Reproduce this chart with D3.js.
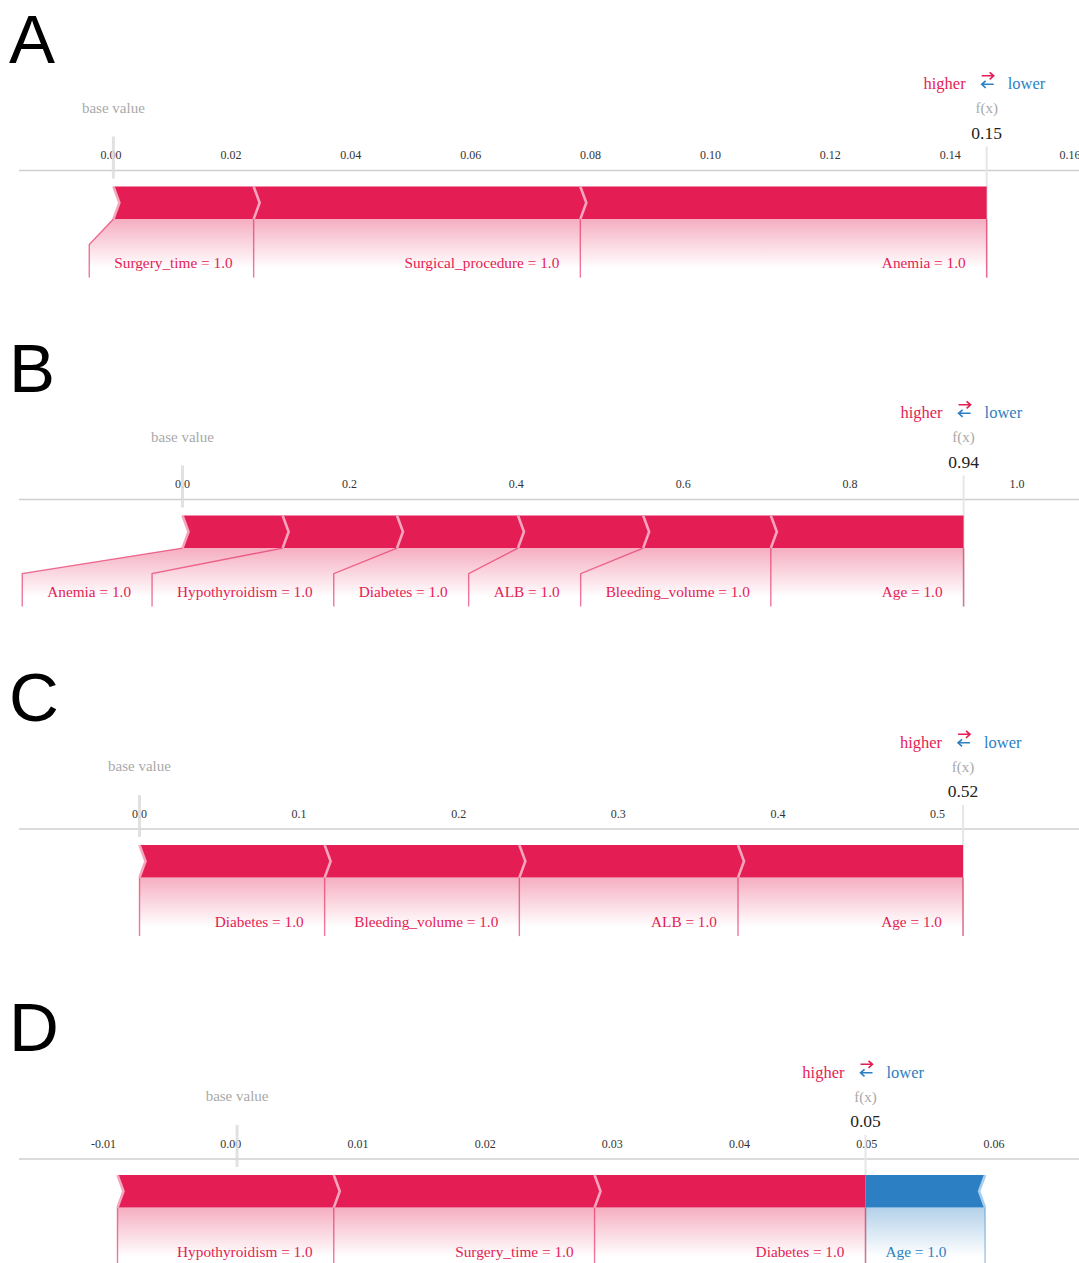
<!DOCTYPE html>
<html>
<head>
<meta charset="utf-8">
<script src="https://cdn.jsdelivr.net/npm/d3@7"></script>
<style>
  body { margin: 0; background: #fff; }
  svg text { font-family: "Liberation Serif", "Times New Roman", serif; }
</style>
</head>
<body>
<div id="chart"></div>
<script>
// ---- data ----
var namesA = ["Surgery_time", "Surgical_procedure", "Anemia"];
var valuesA = ["1.0", "1.0", "1.0"];
var shapA = [0.0234, 0.0545, 0.0678];
var baseA = 0.0004;
var ticksA = [0, 0.02, 0.04, 0.06, 0.08, 0.10, 0.12, 0.14, 0.16];
var tickLabelsA = ["0.00", "0.02", "0.04", "0.06", "0.08", "0.10", "0.12", "0.14", "0.16"];

var namesB = ["Anemia", "Hypothyroidism", "Diabetes", "ALB", "Bleeding_volume", "Age"];
var valuesB = ["1.0", "1.0", "1.0", "1.0", "1.0", "1.0"];
var shapB = [0.120, 0.137, 0.145, 0.150, 0.153, 0.231];
var baseB = 0.0;
var ticksB = [0, 0.2, 0.4, 0.6, 0.8, 1.0];
var tickLabelsB = ["0.0", "0.2", "0.4", "0.6", "0.8", "1.0"];

var namesC = ["Diabetes", "Bleeding_volume", "ALB", "Age"];
var valuesC = ["1.0", "1.0", "1.0", "1.0"];
var shapC = [0.116, 0.122, 0.137, 0.141];
var baseC = 0.0;
var ticksC = [0, 0.1, 0.2, 0.3, 0.4, 0.5];
var tickLabelsC = ["0.0", "0.1", "0.2", "0.3", "0.4", "0.5"];

var namesD = ["Hypothyroidism", "Surgery_time", "Diabetes", "Age"];
var valuesD = ["1.0", "1.0", "1.0", "1.0"];
var shapD = [0.0170, 0.0205, 0.0213, -0.0094];
var baseD = 0.0005;
var ticksD = [-0.01, 0, 0.01, 0.02, 0.03, 0.04, 0.05, 0.06];
var tickLabelsD = ["-0.01", "0.00", "0.01", "0.02", "0.03", "0.04", "0.05", "0.06"];

var letters = ["A", "B", "C", "D"];

// ---- layout ----
var width = 1079, height = 1263;
var red = "#e41d55", blue = "#2c7fc2";
var redEdge = "#f5a6bd", blueEdge = "#a8cdee";

var panels = [
  {names: namesA, values: valuesA, shap: shapA, base: baseA, ticks: ticksA, tickLabels: tickLabelsA, axisY: 170.5, range: [111, 1070]},
  {names: namesB, values: valuesB, shap: shapB, base: baseB, ticks: ticksB, tickLabels: tickLabelsB, axisY: 499.5, range: [182.5, 1017]},
  {names: namesC, values: valuesC, shap: shapC, base: baseC, ticks: ticksC, tickLabels: tickLabelsC, axisY: 829, range: [139.5, 937.5]},
  {names: namesD, values: valuesD, shap: shapD, base: baseD, ticks: ticksD, tickLabels: tickLabelsD, axisY: 1159, range: [103.5, 994]}
];

var svg = d3.select("#chart").append("svg")
    .attr("width", width)
    .attr("height", height);

var defs = svg.append("defs");
function makeGrad(id, color) {
  var g = defs.append("linearGradient").attr("id", id)
      .attr("x1", 0).attr("y1", 0).attr("x2", 0).attr("y2", 1);
  g.append("stop").attr("offset", "0%").attr("stop-color", color).attr("stop-opacity", 0.36);
  g.append("stop").attr("offset", "84%").attr("stop-color", color).attr("stop-opacity", 0);
}
makeGrad("gradRed", red);
makeGrad("gradBlue", blue);

var tip = 6;          // chevron depth
var pad = 46;         // label box width beyond text
var labelSize = 15.3;

panels.forEach(function (p, pi) {
  var x = d3.scaleLinear()
      .domain([p.ticks[0], p.ticks[p.ticks.length - 1]])
      .range(p.range);

  var g = svg.append("g");
  var ay = p.axisY;
  var top = ay + 16, bot = ay + 48.6, mid = (top + bot) / 2;
  var corner = bot + 25.5, lineBottom = bot + 58.5, labelY = bot + 49;

  var fx = p.base + d3.sum(p.shap);
  var sumPos = d3.sum(p.shap.filter(function (v) { return v > 0; }));

  // segments
  var pos = [], neg = [];
  var cur = fx - sumPos;
  p.shap.forEach(function (v, i) {
    if (v > 0) {
      pos.push({i: i, x0: x(cur), x1: x(cur + v)});
      cur += v;
    }
  });
  cur = fx;
  p.shap.forEach(function (v, i) {
    if (v < 0) {
      neg.push({i: i, x0: x(cur), x1: x(cur - v)});
      cur -= v;
    }
  });

  // panel letter
  g.append("text")
      .attr("x", 9)
      .attr("y", ay - 108)
      .style("font-family", "'Liberation Sans', Arial, sans-serif")
      .style("font-size", "69px")
      .attr("fill", "#000")
      .text(letters[pi]);

  // axis line + tick labels
  g.append("line")
      .attr("x1", 19).attr("x2", width)
      .attr("y1", ay).attr("y2", ay)
      .attr("stroke", "#cfcfcf").attr("stroke-width", 1.6);

  g.selectAll(".tick")
      .data(p.ticks)
      .enter().append("text")
      .attr("class", "tick")
      .attr("x", function (d) { return x(d); })
      .attr("y", ay - 11.5)
      .attr("text-anchor", "middle")
      .style("font-size", "12px")
      .attr("fill", "#333")
      .text(function (d, i) { return p.tickLabels[i]; });

  // base value and f(x) guide lines
  g.append("line")
      .attr("x1", x(p.base)).attr("x2", x(p.base))
      .attr("y1", ay - 34).attr("y2", ay + 8)
      .attr("stroke", "#dcdcdc").attr("stroke-opacity", 0.85).attr("stroke-width", 3);
  g.append("line")
      .attr("x1", x(fx)).attr("x2", x(fx))
      .attr("y1", ay - 24).attr("y2", ay + 107)
      .attr("stroke", "#e6e6e6").attr("stroke-width", 2);

  g.append("text")
      .attr("x", x(p.base)).attr("y", ay - 58)
      .attr("text-anchor", "middle")
      .style("font-size", "15px")
      .attr("fill", "#a9a9a9")
      .text("base value");

  g.append("text")
      .attr("x", x(fx)).attr("y", ay - 57.5)
      .attr("text-anchor", "middle")
      .style("font-size", "15px")
      .attr("fill", "#a9a9a9")
      .text("f(x)");

  g.append("text")
      .attr("x", x(fx)).attr("y", ay - 31.7)
      .attr("text-anchor", "middle")
      .style("font-size", "17.5px")
      .attr("fill", "#222")
      .text(fx.toFixed(2));

  // higher <-> lower legend
  g.append("text")
      .attr("x", x(fx) - 21).attr("y", ay - 81.4)
      .attr("text-anchor", "end")
      .style("font-size", "16.5px")
      .attr("fill", red)
      .text("higher");
  g.append("text")
      .attr("x", x(fx) + 21).attr("y", ay - 81.4)
      .attr("text-anchor", "start")
      .style("font-size", "16.5px")
      .attr("fill", blue)
      .text("lower");
  var cx = x(fx) + 1, ya = ay - 94.7, yb = ay - 86.2;
  g.append("path")
      .attr("d", "M" + (cx - 6) + "," + ya + "H" + (cx + 6) + "M" + (cx + 2) + "," + (ya - 3.5) + "L" + (cx + 6) + "," + ya + "L" + (cx + 2) + "," + (ya + 3.5))
      .attr("fill", "none").attr("stroke", red).attr("stroke-width", 1.6);
  g.append("path")
      .attr("d", "M" + (cx + 6) + "," + yb + "H" + (cx - 6) + "M" + (cx - 2) + "," + (yb - 3.5) + "L" + (cx - 6) + "," + yb + "L" + (cx - 2) + "," + (yb + 3.5))
      .attr("fill", "none").attr("stroke", blue).attr("stroke-width", 1.6);

  // labels: measure text first
  var labelG = g.append("g");
  function makeLabel(seg, color) {
    var t = labelG.append("text")
        .attr("y", labelY)
        .style("font-size", labelSize + "px")
        .attr("fill", color)
        .text(p.names[seg.i] + " = " + p.values[seg.i]);
    seg.text = t;
    seg.w = t.node().getComputedTextLength() + pad;
  }
  pos.forEach(function (s) { makeLabel(s, red); });
  neg.forEach(function (s) { makeLabel(s, blue); });

  // positive boxes pushed to the left
  for (var k = pos.length - 1; k >= 0; k--) {
    var s = pos[k];
    s.right = (k === pos.length - 1) ? s.x1 : pos[k + 1].left;
    s.left = Math.min(s.x0, s.right - s.w);
  }
  // negative boxes pushed to the right
  for (var j = 0; j < neg.length; j++) {
    var n = neg[j];
    n.left = (j === 0) ? n.x0 : neg[j - 1].right;
    n.right = Math.max(n.x1, n.left + n.w);
  }

  function boxPoly(s) {
    return [[s.x0, bot], [s.x1, bot], [s.right, corner], [s.right, lineBottom],
            [s.left, lineBottom], [s.left, corner]];
  }
  var polyG = g.insert("g", function () { return labelG.node(); });
  pos.forEach(function (s) {
    polyG.append("path")
        .attr("d", "M" + boxPoly(s).join("L") + "Z")
        .attr("fill", "url(#gradRed)");
  });
  neg.forEach(function (s) {
    polyG.append("path")
        .attr("d", "M" + boxPoly(s).join("L") + "Z")
        .attr("fill", "url(#gradBlue)");
  });

  pos.forEach(function (s, k) {
    polyG.append("path")
        .attr("d", "M" + s.x0 + "," + bot + "L" + s.left + "," + corner + "L" + s.left + "," + lineBottom)
        .attr("fill", "none").attr("stroke", red).attr("stroke-opacity", 0.6).attr("stroke-width", 1.4);
    if (k === pos.length - 1) {
      polyG.append("path")
          .attr("d", "M" + s.x1 + "," + bot + "L" + s.right + "," + lineBottom)
          .attr("fill", "none").attr("stroke", red).attr("stroke-opacity", 0.6).attr("stroke-width", 1.4);
    }
    s.text.attr("x", s.right - 21).attr("text-anchor", "end");
  });
  neg.forEach(function (s) {
    polyG.append("path")
        .attr("d", "M" + s.x1 + "," + bot + "L" + s.right + "," + corner + "L" + s.right + "," + lineBottom)
        .attr("fill", "none").attr("stroke", blue).attr("stroke-opacity", 0.45).attr("stroke-width", 1.4);
    s.text.attr("x", s.left + 20).attr("text-anchor", "start");
  });

  // bars
  var barG = g.append("g");
  pos.forEach(function (s, k) {
    var last = k === pos.length - 1;
    var d = "M" + s.x0 + "," + top + "L" + s.x1 + "," + top +
        (last ? "" : "L" + (s.x1 + tip) + "," + mid) +
        "L" + s.x1 + "," + bot + "L" + s.x0 + "," + bot +
        "L" + (s.x0 + tip) + "," + mid + "Z";
    barG.append("path").attr("d", d).attr("fill", red);
  });
  neg.forEach(function (s, k) {
    var first = k === 0;
    var d = "M" + s.x0 + "," + top + "L" + s.x1 + "," + top +
        "L" + (s.x1 - tip) + "," + mid +
        "L" + s.x1 + "," + bot + "L" + s.x0 + "," + bot +
        (first ? "" : "L" + (s.x0 - tip) + "," + mid) + "Z";
    barG.append("path").attr("d", d).attr("fill", blue);
  });
  // chevron separators
  pos.forEach(function (s) {
    barG.append("path")
        .attr("d", "M" + s.x0 + "," + top + "L" + (s.x0 + tip) + "," + mid + "L" + s.x0 + "," + bot)
        .attr("fill", "none").attr("stroke", redEdge).attr("stroke-width", 2.6);
  });
  neg.forEach(function (s) {
    barG.append("path")
        .attr("d", "M" + s.x1 + "," + top + "L" + (s.x1 - tip) + "," + mid + "L" + s.x1 + "," + bot)
        .attr("fill", "none").attr("stroke", blueEdge).attr("stroke-width", 2.6);
  });
});
</script>
</body>
</html>
